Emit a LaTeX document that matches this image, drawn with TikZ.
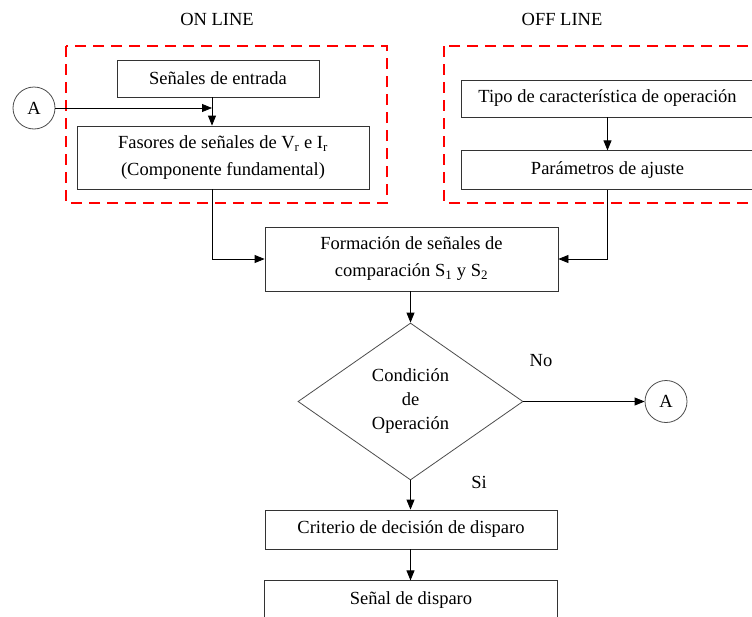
\documentclass[tikz,border=0pt]{standalone}
\usepackage{fontspec}
\setmainfont{Liberation Serif}
\usepackage{tikz}
\usetikzlibrary{arrows.meta, positioning, shapes.geometric}
\colorlet{colorFrame}{red}
\tikzset{every node/.style={font=\fontsize{18.5}{27}\selectfont}}

\begin{document}
\begin{tikzpicture}[x=1pt, y=-1pt, >={Triangle[length=10pt,width=8pt]}, line width=0.8pt,
  block/.style={draw=black!80, rectangle, inner sep=0pt, align=center, minimum width=292pt},
  ref/.style={draw=black!70, circle, minimum size=42pt, inner sep=0pt},
  cond/.style={draw=black!70, diamond, inner sep=0pt, minimum width=225pt, minimum height=157pt, align=center},
  frame/.style={draw=colorFrame, line width=2.6pt, dash pattern=on 11pt off 7pt}]
\useasboundingbox (0,0) rectangle (752,616);
\clip (0,0) rectangle (752,616);
\node (on) at (217,19) {ON LINE};
\node (off) at (562,19) {OFF LINE};
\draw[frame] (66,46) rectangle (387,203);
\draw[frame] (444,46) rectangle (790,203);
\node[block, minimum width=202pt, minimum height=37pt] (in) at (218,78.5) {Señales de entrada};
\node[block, minimum height=63pt] (fas) at (223,157.5) {Fasores de señales de V\textsubscript{r} e I\textsubscript{r}\\(Componente fundamental)};
\node[ref] (A1) at (34,108) {A};
\coordinate (j) at (212,108);
\node[block, minimum width=293pt, minimum height=37pt] (tipo) at (607.5,98.5) {Tipo de característica de operación};
\node[block, minimum width=293pt, minimum height=39pt, below=33pt of tipo] (par) {Parámetros de ajuste};
\node[block, minimum width=293pt, minimum height=64pt] (form) at (411.5,259) {Formación de señales de\\comparación S\textsubscript{1} y S\textsubscript{2}};
\node[cond] (op) at (410.5,401.5) {Condición\\[-3pt]de\\[-3pt]Operación};
\node[ref] (A2) at (666,401.5) {A};
\node[block, minimum height=39pt] (crit) at (411,529.5) {Criterio de decisión de disparo};
\node[block, minimum width=293pt, minimum height=38pt, below=31pt of crit] (disp) {Señal de disparo};
\node (no) at (541,361) {No};
\node (si) at (479,482) {Si};
\draw[->] (A1) -- (j);
\draw[->] (in.south -| j) -- (fas.north -| j);
\draw[->] (fas.south -| j) |- (form.west);
\draw[->] (tipo) -- (par);
\draw[->] (par.south) |- (form.east);
\draw[->] (form.south -| op.north) -- (op.north);
\draw[->] (op.east) -- (A2);
\draw[->] (op.south) -- (op.south |- crit.north);
\draw[->] (crit.south -| op.south) -- (op.south |- disp.north);
\end{tikzpicture}
\end{document}
